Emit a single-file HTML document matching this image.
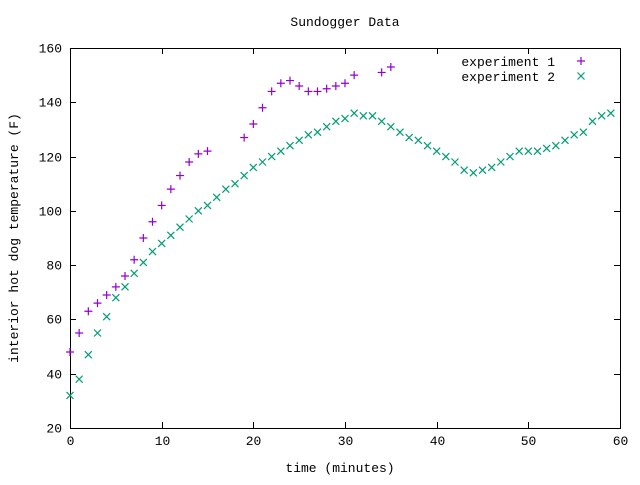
<!DOCTYPE html>
<html><head><meta charset="utf-8"><style>
body{margin:0;background:#fff}
svg text{font-family:"Liberation Mono","DejaVu Sans Mono",monospace;font-size:13px;fill:#000}
</style></head><body>
<svg id="chart" width="640" height="480" xmlns="http://www.w3.org/2000/svg">
<rect width="640" height="480" fill="#fff"/>
<text x="345" y="26" text-anchor="middle">Sundogger Data</text>
<text x="340" y="472" text-anchor="middle">time (minutes)</text>
<text transform="translate(18,238) rotate(-90)" text-anchor="middle">interior hot dog temperature (F)</text>
<g id="axes"></g>
<g id="marks"></g>
<g>
<text x="555" y="66" text-anchor="end">experiment 1</text>
<text x="555" y="81" text-anchor="end">experiment 2</text>
<g id="legmarks"></g>
</g>
</svg>
<script>
const xTicks=[0,10,20,30,40,50,60];
const yTicks=[20,40,60,80,100,120,140,160];
const exp1X=[0,1,2,3,4,5,6,7,8,9,10,11,12,13,14,15,19,20,21,22,23,24,25,26,27,28,29,30,31,34,35];
const exp1Y=[48,55,63,66,69,72,76,82,90,96,102,108,113,118,121,122,127,132,138,144,147,148,146,144,144,145,146,147,150,151,153];
const exp2X=[0,1,2,3,4,5,6,7,8,9,10,11,12,13,14,15,16,17,18,19,20,21,22,23,24,25,26,27,28,29,30,31,32,33,34,35,36,37,38,39,40,41,42,43,44,45,46,47,48,49,50,51,52,53,54,55,56,57,58,59];
const exp2Y=[32,38,47,55,61,68,72,77,81,85,88,91,94,97,100,102,105,108,110,113,116,118,120,122,124,126,128,129,131,133,134,136,135,135,133,131,129,127,126,124,122,120,118,115,114,115,116,118,120,122,122,122,123,124,126,128,129,133,135,136];
const L=70,R=620,T=48,B=428;
const sx=v=>L+(v-0)/60*(R-L);
const sy=v=>B-(v-20)/140*(B-T);
const NS="http://www.w3.org/2000/svg";
function mk(tag,attrs,parent){const e=document.createElementNS(NS,tag);for(const k in attrs)e.setAttribute(k,attrs[k]);parent.appendChild(e);return e;}
const axes=document.getElementById('axes');
const frame=mk('rect',{x:L+0.5,y:T+0.5,width:R-L,height:B-T,fill:'none',stroke:'#000','stroke-width':1},axes);


xTicks.forEach(t=>{const x=Math.round(sx(t))+0.5;
 const a=mk('path',{d:`M${x},${B}v-6M${x},${T}v6`,stroke:'#000'},axes);
 
 
 const tx=mk('text',{x:x,y:B+17,'text-anchor':'middle'},axes);tx.textContent=t;
 
 });
yTicks.forEach(t=>{const y=Math.round(sy(t))+0.5;
 const a=mk('path',{d:`M${L},${y}h6M${R},${y}h-6`,stroke:'#000'},axes);
 
 
 const tx=mk('text',{x:L-8,y:y+4,'text-anchor':'end'},axes);tx.textContent=t;
 
 });
const marks=document.getElementById('marks');
function plus(x,y,p){return mk('path',{d:`M${x-4},${y}h8M${x},${y-4}v8`,stroke:'#9400d3','stroke-width':1.2,fill:'none'},p);}
function cross(x,y,p){return mk('path',{d:`M${x-3.5},${y-3.5}l7,7M${x-3.5},${y+3.5}l7,-7`,stroke:'#009e73','stroke-width':1.2,fill:'none'},p);}
exp1X.forEach((v,i)=>{const e=plus(sx(v),sy(exp1Y[i]),marks);
 
 });
exp2X.forEach((v,i)=>{const e=cross(sx(v),sy(exp2Y[i]),marks);
 
 });
const lm=document.getElementById('legmarks');
const l1=plus(581,61,lm);


const l2=cross(581,76,lm);


</script>
</body></html>
